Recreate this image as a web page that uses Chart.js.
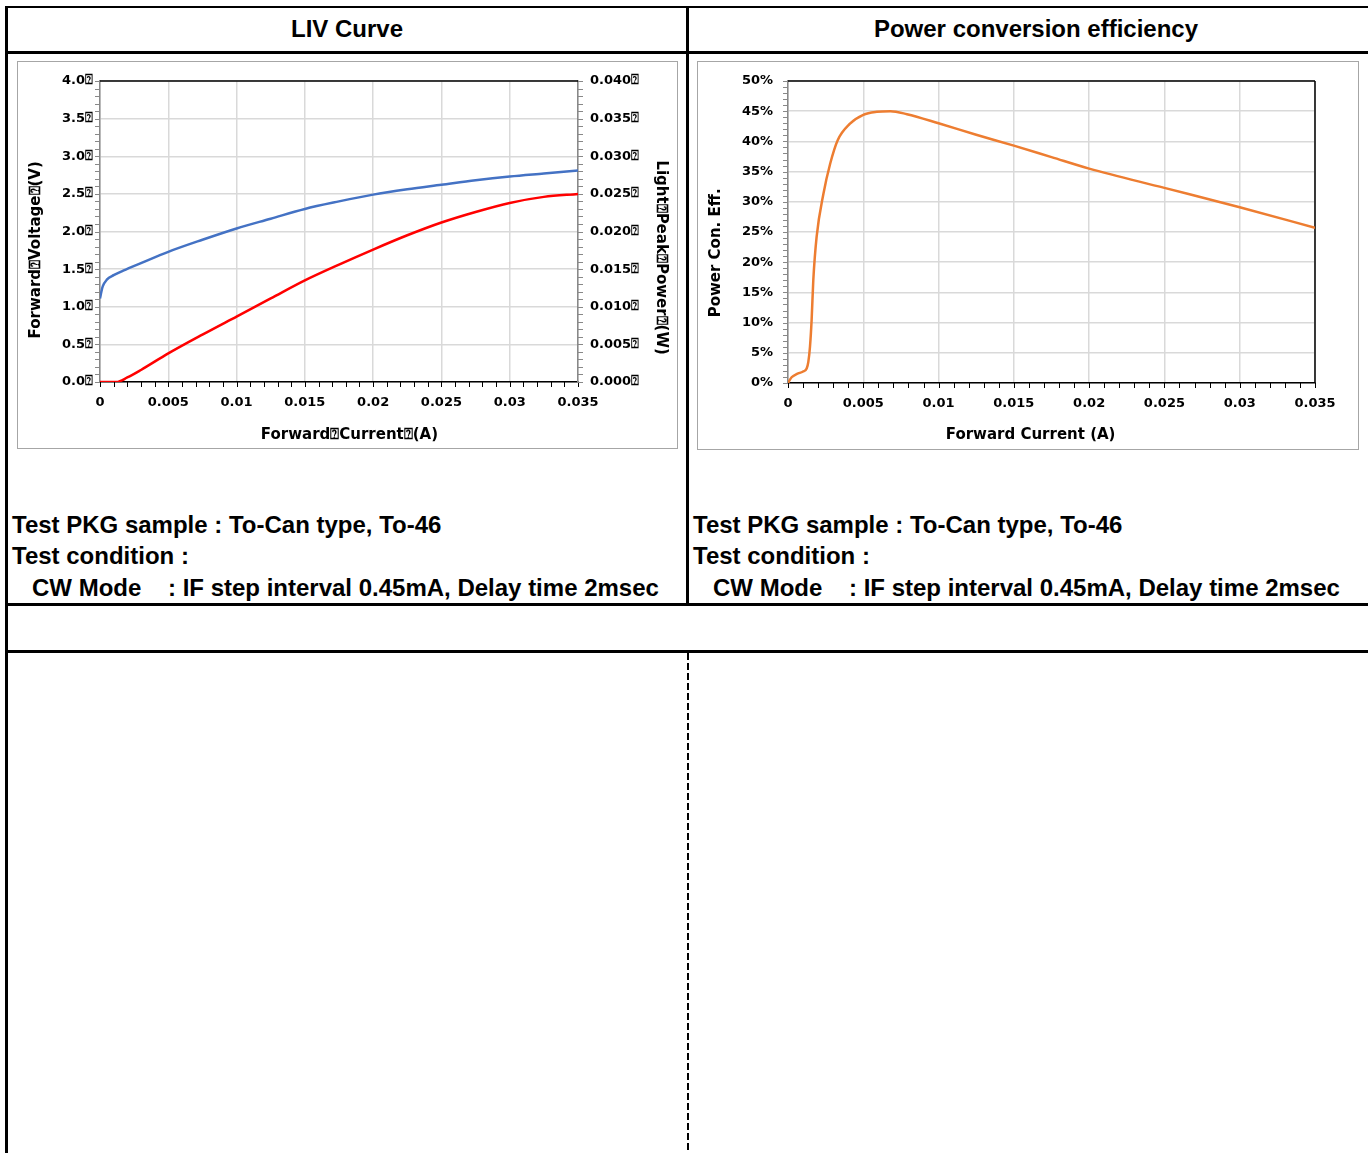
<!DOCTYPE html>
<html>
<head>
<meta charset="utf-8">
<script src="https://cdn.jsdelivr.net/npm/chart.js@4.4.1/dist/chart.umd.min.js"></script>
<style>
  body { margin: 0; width: 1368px; height: 1153px; background: #fff; position: relative; overflow: hidden; font-family: "Liberation Sans", Arial, sans-serif; }
  .line { position: absolute; background: #000; }
  .head { position: absolute; top: 7px; height: 43px; line-height: 43px; text-align: center; font-weight: bold; font-size: 24px; }
  .note { position: absolute; top: 509px; font-weight: bold; font-size: 24px; line-height: 31.3px; white-space: pre; }
  .box { position: absolute; border: 1px solid #a6a6a6; }
  .box canvas { display: block; }
  .dash { position: absolute; left: 687px; top: 653px; width: 2px; height: 500px;
          background: repeating-linear-gradient(to bottom, #000 0 7px, transparent 7px 10px); }
</style>
</head>
<body>
<!-- table frame -->
<div class="line" style="left:6px; top:6px; width:1362px; height:2px;"></div>
<div class="line" style="left:6px; top:51px; width:1362px; height:3px;"></div>
<div class="line" style="left:6px; top:603px; width:1362px; height:3px;"></div>
<div class="line" style="left:6px; top:650px; width:1362px; height:3px;"></div>
<div class="line" style="left:5px; top:6px; width:3px; height:1147px;"></div>
<div class="line" style="left:686px; top:6px; width:3px; height:599px;"></div>
<div class="dash"></div>

<div class="head" style="left:8px; width:678px;">LIV Curve</div>
<div class="head" style="left:689px; width:694px;">Power conversion efficiency</div>

<div class="box" style="left:17px; top:61px;"><canvas id="livChart" width="659" height="386"></canvas></div>
<div class="box" style="left:697px; top:61px;"><canvas id="pceChart" width="660" height="387"></canvas></div>

<div class="note" style="left:12px;">Test PKG sample : To-Can type, To-46
Test condition :
   CW Mode    : IF step interval 0.45mA, Delay time 2msec</div>
<div class="note" style="left:693px;">Test PKG sample : To-Can type, To-46
Test condition :
   CW Mode    : IF step interval 0.45mA, Delay time 2msec</div>

<script>
// LIV curve - forward voltage (V)
const ivCurrent = [0, 0.0001, 0.0002, 0.0005, 0.001, 0.0017, 0.003, 0.005, 0.0075, 0.01, 0.0125, 0.015, 0.0175, 0.02, 0.0225, 0.025, 0.0275, 0.03, 0.0325, 0.035]
const voltage = [1.11, 1.20, 1.27, 1.36, 1.42, 1.48, 1.58, 1.73, 1.89, 2.04, 2.17, 2.30, 2.40, 2.49, 2.56, 2.62, 2.68, 2.73, 2.77, 2.81]

// LIV curve - light peak power (W)
const lpCurrent = [0, 0.0012, 0.002, 0.003, 0.005, 0.0075, 0.01, 0.0125, 0.015, 0.0175, 0.02, 0.0225, 0.025, 0.0275, 0.03, 0.0325, 0.035]
const power = [0, 0, 0.0006, 0.0016, 0.0038, 0.0063, 0.0087, 0.0111, 0.0135, 0.0156, 0.0176, 0.0195, 0.0212, 0.0226, 0.0238, 0.0246, 0.0250]

// power conversion efficiency (%)
const pceCurrent = [0, 0.00024, 0.0006, 0.001, 0.00124, 0.00135, 0.00146, 0.00157, 0.00168, 0.0019, 0.00235, 0.0028, 0.0033, 0.0041, 0.005, 0.0059, 0.0068, 0.0079, 0.01, 0.0125, 0.015, 0.0175, 0.02, 0.025, 0.03, 0.035]
const pce = [0, 0.95, 1.5, 1.9, 2.4, 3.5, 6.0, 10.5, 17.0, 24.2, 31.3, 36.3, 40.2, 42.9, 44.4, 44.9, 45.0, 44.5, 43.0, 41.1, 39.3, 37.4, 35.5, 32.3, 29.1, 25.7]

const BOX = '\u2370'
const SP = '\u00a0'
const tickFont = { family: 'DejaVu Sans', weight: 'bold', size: 13 }
const titleFont = { family: 'DejaVu Sans', weight: 'bold', size: 15 }
const gridColor = '#d9d9d9'

function pairs(xs, ys) {
    return xs.map((x, i) => ({ x: x, y: ys[i] }))
}

function fmtCurrent(v) {
    return String(Number(v.toFixed(3)))
}

// titles in the original sit a bit off the axis centre, padded with spaces
function shifted(text, before, after) {
    return SP.repeat(before) + text + SP.repeat(after)
}

// fixed axis sizes so the plot area lands where the original has it
function fixSize(size) {
    return s => {
        if (s.isHorizontal()) s.height = size
        else s.width = size
        s.paddingTop = 0
        s.paddingBottom = 0
        s.paddingLeft = 0
        s.paddingRight = 0
    }
}

// top/right frame of the plot and the small tick marks
const frameTicks = {
    id: 'frameTicks',
    beforeDatasetsDraw(chart, args, opts) {
        const ctx = chart.ctx
        const a = chart.chartArea
        ctx.save()
        ctx.strokeStyle = '#000'
        ctx.lineWidth = 1.5
        ctx.beginPath()
        ctx.moveTo(a.left, a.top)
        ctx.lineTo(a.right, a.top)
        if (opts.rightFrame) {
            ctx.moveTo(a.right, a.top)
            ctx.lineTo(a.right, a.bottom)
        }
        ctx.stroke()
        for (const t of opts.ticks) {
            const s = chart.scales[t.id]
            const n = Math.round((s.max - s.min) / t.step)
            ctx.strokeStyle = t.color
            ctx.lineWidth = 1
            ctx.beginPath()
            for (let i = 0; i <= n; i++) {
                const p = Math.round(s.getPixelForValue(s.min + i * t.step)) + 0.5
                if (s.isHorizontal()) {
                    ctx.moveTo(p, s.top)
                    ctx.lineTo(p, s.top + 5)
                } else if (s.position === 'left') {
                    ctx.moveTo(s.right, p)
                    ctx.lineTo(s.right - 5, p)
                } else {
                    ctx.moveTo(s.left, p)
                    ctx.lineTo(s.left + 5, p)
                }
            }
            ctx.stroke()
        }
        ctx.restore()
    }
}

function xScale() {
    return {
        type: 'linear',
        position: 'bottom',
        min: 0,
        max: 0.035,
        ticks: { stepSize: 0.005, color: '#000', font: tickFont, padding: 13, maxRotation: 0, autoSkip: false, callback: v => fmtCurrent(v) },
        grid: { color: gridColor, lineWidth: 1.5, drawTicks: false },
        border: { color: '#000', width: 1.5 },
        afterFit: fixSize(66)
    }
}

// FIRST CHART - LIV

const livChart = new Chart(document.getElementById('livChart'), {
    type: 'line',
    data: {
        datasets: [
            {
                label: 'Forward Voltage',
                data: pairs(ivCurrent, voltage),
                yAxisID: 'y',
                borderColor: '#4472C4',
                borderWidth: 2.5,
                pointRadius: 0,
                cubicInterpolationMode: 'monotone'
            },
            {
                label: 'Light Peak Power',
                data: pairs(lpCurrent, power),
                yAxisID: 'y1',
                borderColor: '#FF0000',
                borderWidth: 2.5,
                pointRadius: 0,
                cubicInterpolationMode: 'monotone'
            }
        ]
    },
    options: {
        responsive: false,
        animation: false,
        layout: { padding: { top: 19, left: 0, right: 0, bottom: 0 } },
        plugins: {
            legend: { display: false },
            tooltip: { enabled: false },
            frameTicks: {
                rightFrame: false,
                ticks: [
                    { id: 'x', step: 0.001, color: '#000' },
                    { id: 'y', step: 0.1, color: '#888' },
                    { id: 'y1', step: 0.001, color: '#888' }
                ]
            }
        },
        scales: {
            x: Object.assign(xScale(), {
                title: { display: true, text: shifted('Forward' + BOX + 'Current' + BOX + '(A)', 4, 0), color: '#000', font: titleFont, padding: { top: 0, bottom: 4 } }
            }),
            y: {
                position: 'left',
                min: 0,
                max: 4,
                ticks: { stepSize: 0.5, color: '#000', font: tickFont, padding: 7, callback: v => v.toFixed(1) + BOX },
                grid: { color: gridColor, lineWidth: 1.5, drawTicks: false },
                border: { color: '#888', width: 1.5 },
                title: { display: true, text: shifted('Forward' + BOX + 'Voltage' + BOX + '(V)', 0, 7), color: '#000', font: titleFont, padding: { top: 9, bottom: 0 } },
                afterFit: fixSize(82)
            },
            y1: {
                position: 'right',
                min: 0,
                max: 0.04,
                ticks: { stepSize: 0.005, color: '#000', font: tickFont, padding: 12, callback: v => v.toFixed(3) + BOX },
                grid: { display: false, drawTicks: false },
                border: { color: '#888', width: 1.5 },
                title: { display: true, text: shifted('Light' + BOX + 'Peak' + BOX + 'Power' + BOX + '(W)', 10, 0), color: '#000', font: titleFont, padding: { top: 7, bottom: 0 } },
                afterFit: fixSize(99)
            }
        }
    },
    plugins: [frameTicks]
})

// SECOND CHART - power conversion efficiency

const pceChart = new Chart(document.getElementById('pceChart'), {
    type: 'line',
    data: {
        datasets: [{
            label: 'Power Con. Eff.',
            data: pairs(pceCurrent, pce),
            borderColor: '#ED7D31',
            borderWidth: 2.5,
            pointRadius: 0,
            cubicInterpolationMode: 'monotone'
        }]
    },
    options: {
        responsive: false,
        animation: false,
        layout: { padding: { top: 19, left: 0, right: 43, bottom: 0 } },
        plugins: {
            legend: { display: false },
            tooltip: { enabled: false },
            frameTicks: {
                rightFrame: true,
                ticks: [
                    { id: 'x', step: 0.001, color: '#000' },
                    { id: 'y', step: 1, color: '#888' }
                ]
            }
        },
        scales: {
            x: Object.assign(xScale(), {
                title: { display: true, text: shifted('Forward Current (A)', 0, 8), color: '#000', font: titleFont, padding: { top: 0, bottom: 5 } }
            }),
            y: {
                position: 'left',
                min: 0,
                max: 50,
                ticks: { stepSize: 5, color: '#000', font: tickFont, padding: 15, callback: v => v + '%' },
                grid: { color: gridColor, lineWidth: 1.5, drawTicks: false },
                border: { color: '#888', width: 1.5 },
                title: { display: true, text: shifted('Power Con. Eff.', 0, 8), color: '#000', font: titleFont, padding: { top: 9, bottom: 0 } },
                afterFit: fixSize(90)
            }
        }
    },
    plugins: [frameTicks]
})
</script>
</body>
</html>
